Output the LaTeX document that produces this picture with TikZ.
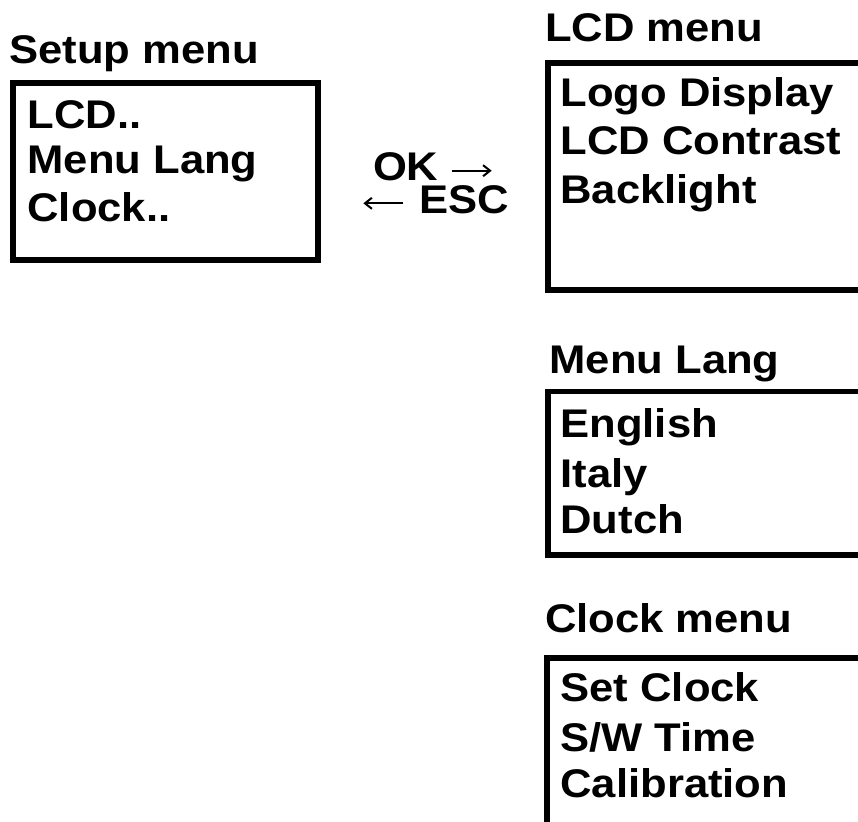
\documentclass[tikz,border=0pt]{standalone}
\usepackage{fontspec}
\usetikzlibrary{arrows.meta}
\newfontfamily\menufont{Liberation Sans}[FakeStretch=1.09]
\begin{document}
\begin{tikzpicture}[x=1pt,y=-1pt,
  lbl/.style={anchor=base west, inner sep=0pt, outer sep=0pt, font=\menufont\bfseries\fontsize{40}{42}\selectfont},
  frame/.style={draw=black, line width=5.5pt, anchor=north west, inner sep=0pt, outer sep=0pt},
  keyarrow/.style={line width=2pt, -{Straight Barb[length=7pt,width=11pt,line width=2pt]}}]
\useasboundingbox[fill=white] (0,0) rectangle (858,821);
% boxes
\node[frame, minimum width=305pt, minimum height=177pt] (setupbox) at (13,83) {};
\node[frame, minimum width=330pt, minimum height=227pt] (lcdbox) at (548,63) {};
\node[frame, minimum width=330pt, minimum height=163.5pt] (langbox) at (548,391.5) {};
\node[frame, minimum width=330pt, minimum height=200pt] (clockbox) at (547,658) {};
% titles
\node[lbl] (setupT) at (9.5,63.5) {Setup menu};
\node[lbl] (lcdT) at (545,42) {LCD menu};
\node[lbl] (langT) at (549.5,373) {Menu Lang};
\node[lbl] (clkT) at (545,632) {Clock menu};
% setup menu items
\node[lbl] (s1) at (27.5,128.5) {LCD..};
\node[lbl] (s2) at (27.5,174) {Menu Lang};
\node[lbl] (s3) at (27.5,221.5) {Clock..};
% LCD menu items
\node[lbl] (l1) at (560.5,107) {Logo Display};
\node[lbl] (l2) at (560.5,155) {LCD Contrast};
\node[lbl] (l3) at (560.5,203) {Backlight};
% language items
\node[lbl] (g1) at (560.5,437) {English};
\node[lbl] (g2) at (560.5,487) {Italy};
\node[lbl] (g3) at (560.5,533.5) {Dutch};
% clock items
\node[lbl] (c1) at (560.5,701.5) {Set Clock};
\node[lbl] (c2) at (560.5,751.5) {S/W Time};
\node[lbl] (c3) at (560.5,797) {Calibration};
% keys
\node[lbl] (ok) at (373,180) {OK};
\node[lbl] (esc) at (419.5,213.3) {ESC};
\coordinate (okA) at (451.7,170.7);
\coordinate (okB) at (491.7,170.7);
\coordinate (escA) at (403.3,203.3);
\coordinate (escB) at (363.3,203.3);
\draw[keyarrow] (okA) -- (okB);
\draw[keyarrow] (escA) -- (escB);
\end{tikzpicture}
\end{document}
